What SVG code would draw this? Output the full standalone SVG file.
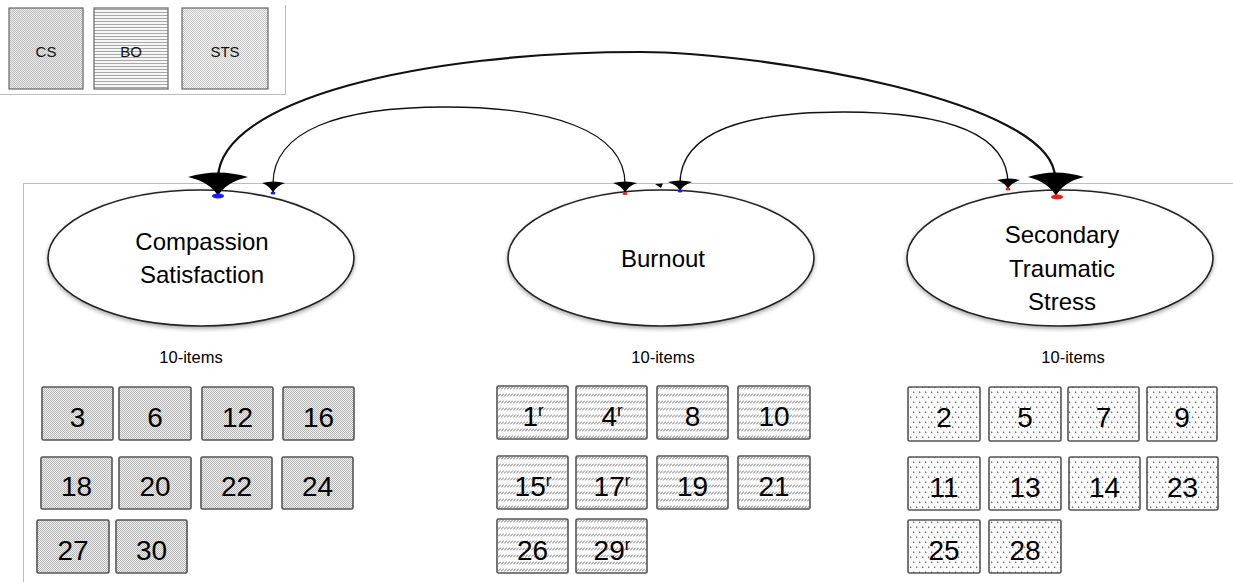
<svg xmlns="http://www.w3.org/2000/svg" width="1233" height="582" viewBox="0 0 1233 582">
<defs>
<style>
.frame{stroke:#bdbdbd;stroke-width:1;fill:none}
.lat{fill:#fff;stroke:#222;stroke-width:1.6}
.lt{font-family:"Liberation Sans",Arial,sans-serif;font-size:24px;fill:#000;text-anchor:middle}
.n10{font-family:"Liberation Sans",Arial,sans-serif;font-size:16.5px;fill:#000;text-anchor:middle}
.item{stroke:#555;stroke-width:1.6}
.it{font-family:"Liberation Sans",Arial,sans-serif;font-size:28px;fill:#000;text-anchor:middle}
.sup{font-size:17px}
.leg{font-family:"Liberation Sans",Arial,sans-serif;font-size:15px;fill:#111;text-anchor:middle}
.cs{fill:url(#pCS)}
.bo{fill:url(#pBO)}
.sts{fill:url(#pSTS)}
.conn{fill:none;stroke:#111}
.ah{fill:#000}
</style>
<pattern id="pCS" width="2" height="2" patternUnits="userSpaceOnUse">
<rect width="2" height="2" fill="#f2f2f2"/>
<rect width="1" height="1" fill="#b4b4b4"/>
<rect x="1" y="1" width="1" height="1" fill="#b4b4b4"/>
</pattern>
<pattern id="pBO" width="3" height="7" patternUnits="userSpaceOnUse">
<rect width="3" height="7" fill="#fafafa"/>
<path d="M0,4.5 L3,1.5" stroke="#666" stroke-width="0.9"/>
</pattern>
<pattern id="pSTS" width="6" height="10" patternUnits="userSpaceOnUse">
<rect width="6" height="10" fill="#fbfbfb"/>
<path d="M1,1.2 L2.8,2.2 L1,3.2 Z" fill="#666"/>
<path d="M4,6.2 L5.8,7.2 L4,8.2 Z" fill="#666"/>
</pattern>
<pattern id="pLCS" width="2" height="2" patternUnits="userSpaceOnUse">
<rect width="2" height="2" fill="#ececec"/>
<rect width="1" height="1" fill="#bcbcbc"/>
<rect x="1" y="1" width="1" height="1" fill="#bcbcbc"/>
</pattern>
<pattern id="pLBO" width="3" height="3" patternUnits="userSpaceOnUse">
<rect width="3" height="3" fill="#f6f6f6"/>
<rect width="3" height="1" fill="#a8a8a8"/>
</pattern>
<pattern id="pLSTS" width="2" height="2" patternUnits="userSpaceOnUse">
<rect width="2" height="2" fill="#f8f8f8"/>
<rect width="1" height="1" fill="#c4c4c4"/>
<rect x="1" y="1" width="1" height="1" fill="#c4c4c4"/>
</pattern>
<filter id="sh" x="-10%" y="-10%" width="120%" height="130%">
<feGaussianBlur in="SourceAlpha" stdDeviation="2"/>
<feOffset dx="0" dy="2" result="b"/>
<feComponentTransfer><feFuncA type="linear" slope="0.35"/></feComponentTransfer>
<feMerge><feMergeNode/><feMergeNode in="SourceGraphic"/></feMerge>
</filter>
</defs>
<rect width="1233" height="582" fill="#fff"/>

<g id="legend">
<path class="frame" d="M285.5,5 V94.5 H0"/>
<rect x="9" y="8" width="74" height="81" fill="url(#pLCS)" stroke="#666" stroke-width="1.2"/>
<text class="leg" x="46" y="57">CS</text>
<rect x="94" y="8" width="74" height="81" fill="url(#pLBO)" stroke="#666" stroke-width="1.2"/>
<text class="leg" x="131" y="57">BO</text>
<rect x="182" y="8" width="86" height="81" fill="url(#pLSTS)" stroke="#666" stroke-width="1.2"/>
<text class="leg" x="225" y="57">STS</text>
</g>

<path class="frame" d="M23.5,582 V183.5 H1233"/>

<g id="node-cs">
<ellipse class="lat" cx="201" cy="258" rx="153" ry="68" filter="url(#sh)"/>
<text class="lt" x="202" y="250">Compassion</text>
<text class="lt" x="202" y="283">Satisfaction</text>
</g>
<g id="node-bo">
<ellipse class="lat" cx="661" cy="258" rx="153" ry="68" filter="url(#sh)"/>
<text class="lt" x="663" y="267">Burnout</text>
</g>
<g id="node-sts">
<ellipse class="lat" cx="1060" cy="258" rx="153" ry="68" filter="url(#sh)"/>
<text class="lt" x="1062" y="243">Secondary</text>
<text class="lt" x="1062" y="277">Traumatic</text>
<text class="lt" x="1062" y="310">Stress</text>
</g>

<g id="labels">
<text class="n10" x="191" y="363">10-items</text>
<text class="n10" x="663" y="363">10-items</text>
<text class="n10" x="1073" y="363">10-items</text>
</g>

<g id="connectors">
<path class="conn" stroke-width="2.2" d="M218,178 C220,100 420,52 640,52 C760,52 1055,100 1055,178"/>
<path class="conn" stroke-width="1.3" d="M273,184 C273,130 340,107 445,107 C550,107 625,130 625,184"/>
<path class="conn" stroke-width="1.3" d="M680,184 C680,130 750,112 843,112 C940,112 1008,130 1008,184"/>
<path class="ah" d="M188,177 Q218,168 248,177 Q226,182 218,196 Q210,182 188,177 Z"/>
<path class="ah" d="M1028,177 Q1055,168 1084,177 Q1063,182 1056,196 Q1048,182 1028,177 Z"/>
<path class="ah" d="M262,183 Q273,180 285,183 Q276,186 273,193 Q270,186 262,183 Z"/>
<path class="ah" d="M613,183 Q625,180 637,183 Q628,186 625,193 Q622,186 613,183 Z"/>
<path class="ah" d="M668,182 Q680,179 692,182 Q683,185 680,191 Q677,185 668,182 Z"/>
<path class="ah" d="M997,180 Q1008,177 1020,180 Q1011,183 1008,189 Q1005,183 997,180 Z"/>
<path class="ah" d="M655,184 L663,183.5 L661,188 Z"/>
<ellipse cx="218" cy="196" rx="6" ry="2.5" fill="#1a1aff"/>
<ellipse cx="1057" cy="197" rx="6" ry="2.5" fill="#ff1a1a"/>
<ellipse cx="273" cy="193" rx="2.5" ry="1.5" fill="#1a1aff"/>
<ellipse cx="625" cy="193.5" rx="2.5" ry="1.5" fill="#ff1a1a"/>
<ellipse cx="680" cy="191" rx="2.5" ry="1.5" fill="#1a1aff"/>
<ellipse cx="1008" cy="189" rx="2.5" ry="1.5" fill="#ff1a1a"/>
</g>

<g id="items-cs">
<g id="cs3"><rect class="item cs" x="42" y="387" width="71" height="53" rx="1.5"/><text class="it" x="77.5" y="427">3</text></g>
<g id="cs6"><rect class="item cs" x="119" y="387" width="72" height="53" rx="1.5"/><text class="it" x="155" y="427">6</text></g>
<g id="cs12"><rect class="item cs" x="202" y="387" width="71" height="53" rx="1.5"/><text class="it" x="237.5" y="427">12</text></g>
<g id="cs16"><rect class="item cs" x="283" y="387" width="71" height="53" rx="1.5"/><text class="it" x="318.5" y="427">16</text></g>
<g id="cs18"><rect class="item cs" x="41" y="457" width="71" height="52" rx="1.5"/><text class="it" x="76.5" y="496">18</text></g>
<g id="cs20"><rect class="item cs" x="119" y="457" width="72" height="52" rx="1.5"/><text class="it" x="155" y="496">20</text></g>
<g id="cs22"><rect class="item cs" x="201" y="457" width="71" height="52" rx="1.5"/><text class="it" x="236.5" y="496">22</text></g>
<g id="cs24"><rect class="item cs" x="282" y="457" width="71" height="52" rx="1.5"/><text class="it" x="317.5" y="496">24</text></g>
<g id="cs27"><rect class="item cs" x="37" y="520" width="72" height="53" rx="1.5"/><text class="it" x="73" y="560">27</text></g>
<g id="cs30"><rect class="item cs" x="116" y="520" width="71" height="53" rx="1.5"/><text class="it" x="151.5" y="560">30</text></g>
</g>

<g id="items-bo">
<g id="bo1"><rect class="item bo" x="497" y="386" width="71" height="53" rx="1.5"/><text class="it" x="533" y="426">1<tspan class="sup" dy="-10">r</tspan></text></g>
<g id="bo4"><rect class="item bo" x="576" y="386" width="71" height="53" rx="1.5"/><text class="it" x="612" y="426">4<tspan class="sup" dy="-10">r</tspan></text></g>
<g id="bo8"><rect class="item bo" x="657" y="386" width="71" height="53" rx="1.5"/><text class="it" x="692.5" y="426">8</text></g>
<g id="bo10"><rect class="item bo" x="738" y="386" width="72" height="53" rx="1.5"/><text class="it" x="774" y="426">10</text></g>
<g id="bo15"><rect class="item bo" x="497" y="456" width="71" height="53" rx="1.5"/><text class="it" x="533" y="496">15<tspan class="sup" dy="-10">r</tspan></text></g>
<g id="bo17"><rect class="item bo" x="576" y="456" width="71" height="53" rx="1.5"/><text class="it" x="612" y="496">17<tspan class="sup" dy="-10">r</tspan></text></g>
<g id="bo19"><rect class="item bo" x="657" y="456" width="71" height="53" rx="1.5"/><text class="it" x="692.5" y="496">19</text></g>
<g id="bo21"><rect class="item bo" x="738" y="456" width="72" height="53" rx="1.5"/><text class="it" x="774" y="496">21</text></g>
<g id="bo26"><rect class="item bo" x="497" y="519" width="71" height="54" rx="1.5"/><text class="it" x="532.5" y="560">26</text></g>
<g id="bo29"><rect class="item bo" x="576" y="519" width="71" height="54" rx="1.5"/><text class="it" x="612" y="560">29<tspan class="sup" dy="-10">r</tspan></text></g>
</g>

<g id="items-sts">
<g id="sts2"><rect class="item sts" x="908" y="387" width="72" height="54" rx="1.5"/><text class="it" x="944" y="427">2</text></g>
<g id="sts5"><rect class="item sts" x="989" y="387" width="72" height="54" rx="1.5"/><text class="it" x="1025" y="427">5</text></g>
<g id="sts7"><rect class="item sts" x="1068" y="387" width="71" height="54" rx="1.5"/><text class="it" x="1103.5" y="427">7</text></g>
<g id="sts9"><rect class="item sts" x="1147" y="387" width="70" height="54" rx="1.5"/><text class="it" x="1182" y="427">9</text></g>
<g id="sts11"><rect class="item sts" x="908" y="457" width="72" height="53" rx="1.5"/><text class="it" x="944" y="497">11</text></g>
<g id="sts13"><rect class="item sts" x="989" y="457" width="72" height="53" rx="1.5"/><text class="it" x="1025" y="497">13</text></g>
<g id="sts14"><rect class="item sts" x="1069" y="457" width="71" height="53" rx="1.5"/><text class="it" x="1104.5" y="497">14</text></g>
<g id="sts23"><rect class="item sts" x="1147" y="457" width="71" height="53" rx="1.5"/><text class="it" x="1182.5" y="497">23</text></g>
<g id="sts25"><rect class="item sts" x="908" y="520" width="72" height="53" rx="1.5"/><text class="it" x="944" y="560">25</text></g>
<g id="sts28"><rect class="item sts" x="989" y="520" width="72" height="53" rx="1.5"/><text class="it" x="1025" y="560">28</text></g>
</g>
</svg>
